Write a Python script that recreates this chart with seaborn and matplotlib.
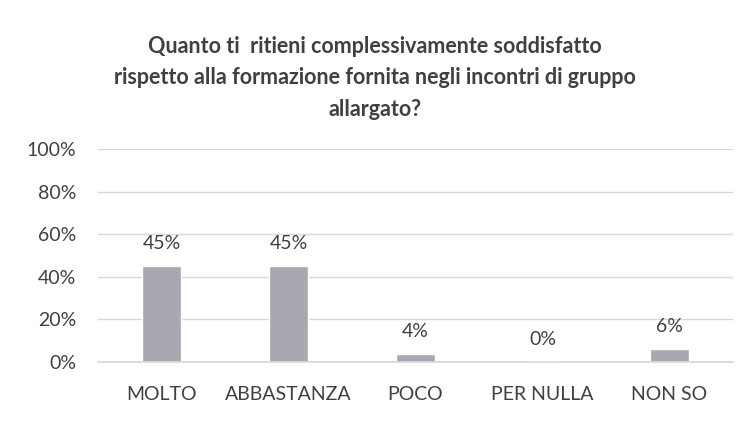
import matplotlib
matplotlib.use("Agg")
import matplotlib.pyplot as plt
import seaborn as sns
import pandas as pd
from matplotlib.ticker import PercentFormatter

categories = ["MOLTO", "ABBASTANZA", "POCO", "PER NULLA", "NON SO"]
values = [45, 45, 4, 0, 6]
y_ticks = [0, 20, 40, 60, 80, 100]
title = ("Quanto ti  ritieni complessivamente soddisfatto\n"
         "rispetto alla formazione fornita negli incontri di gruppo\n"
         "allargato?")

sns.set_theme(style="white")
plt.rcParams["font.family"] = ["Lato", "DejaVu Sans"]

BAR = "#a7a8b0"
TXT = "#404040"

df = pd.DataFrame({"cat": categories, "val": values})

fig = plt.figure(figsize=(7.5, 4.21), dpi=100)
ax = fig.add_axes([0.131, 0.140, 0.846, 0.506])
sns.barplot(data=df, x="cat", y="val", color=BAR, width=0.31,
            saturation=1, ax=ax)

ax.set_ylim(0, 100)
ax.set_yticks(y_ticks)
ax.yaxis.set_major_formatter(PercentFormatter(decimals=0))
ax.grid(axis="y", color="#d9d9d9", linewidth=1)
ax.set_axisbelow(True)
for s in ["top", "right", "left"]:
    ax.spines[s].set_visible(False)
ax.spines["bottom"].set_color("#d9d9d9")
ax.tick_params(axis="both", length=0, labelsize=14, colors=TXT)
ax.tick_params(axis="y", pad=16)
ax.tick_params(axis="x", pad=17)
ax.set_xlabel("")
ax.set_ylabel("")

for i, v in enumerate(values):
    ax.annotate(f"{v}%", (i, v), xytext=(0, 10), textcoords="offset points",
                ha="center", va="bottom", fontsize=14, color=TXT)

fig.text(0.5, 0.815, title, ha="center", va="center", fontsize=15.5,
         fontweight="bold", color=TXT, linespacing=1.6)

fig.savefig("out.png", dpi=100)
